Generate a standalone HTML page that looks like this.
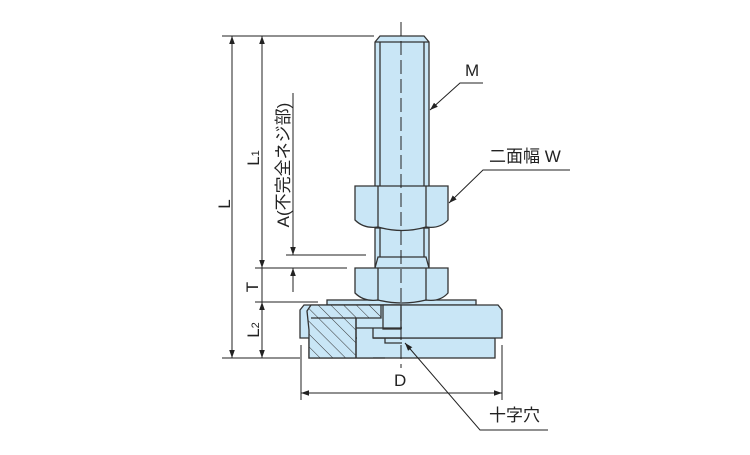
<!DOCTYPE html>
<html><head><meta charset="utf-8"><style>
body{margin:0;background:#fff}
svg text{font-family:"Liberation Sans","Noto Sans CJK JP",sans-serif;fill:#222}
</style></head><body>
<svg width="750" height="450" viewBox="0 0 750 450" xmlns="http://www.w3.org/2000/svg">
<defs>
<marker id="a" viewBox="0 0 10 10" refX="10" refY="5" markerWidth="8" markerHeight="8" orient="auto-start-reverse" markerUnits="userSpaceOnUse"><path d="M0,1.5 L10,5 L0,8.5 z" fill="#222"/></marker>
<pattern id="h" patternUnits="userSpaceOnUse" width="9" height="9" patternTransform="rotate(-45)"><rect width="9" height="9" fill="#c9e6f6"/><line x1="0" y1="0" x2="0" y2="9" stroke="#333" stroke-width="1"/></pattern>
</defs>
<g stroke="#333" stroke-width="1.3" fill="#c9e6f6">
<path d="M375,42 L380,36 L424,36 L429,42 L429,190 L375,190 Z"/>
<line x1="380" y1="42" x2="380" y2="190"/><line x1="424" y1="42" x2="424" y2="190"/>
<line x1="375" y1="42" x2="429" y2="42"/>
<rect x="375" y="228" width="54" height="42"/>
<line x1="380" y1="228" x2="380" y2="257"/><line x1="424" y1="228" x2="424" y2="257"/>
<path d="M375,268 L378,257 L426,257 L429,268" fill="none"/>
<path d="M355,186 L448,186 L448,220 Q440,229 426,227 Q402,234 378,227 Q364,229 355,220 Z"/>
<line x1="378" y1="186" x2="378" y2="227"/><line x1="426" y1="186" x2="426" y2="227"/>
<rect x="327" y="300" width="149" height="5"/>
<rect x="309" y="338" width="186" height="20"/>
<path d="M300,310 L304,305 L498,305 L502,310 L502,338 L300,338 Z"/>
<path d="M307,311 L311,305 L381,305 L381,318 L356,318 L356,358 L309,358 L309,330 Z" fill="url(#h)"/>
<line x1="311" y1="318" x2="356" y2="318"/>
<rect x="383" y="305" width="18" height="24" fill="#c9e6f6"/>
<rect x="357" y="328" width="16" height="30" stroke="none"/>
<path d="M356,328 L402,328 M373,328 L373,338 L402,338 M385,338 L385,343 L402,343" fill="none"/>
<line x1="356" y1="318" x2="356" y2="358"/>
<line x1="357" y1="358" x2="385" y2="358"/>
<path d="M355,268 L448,268 L448,293 Q440,302 426,300 Q402,306 378,300 Q364,302 355,293 Z"/>
<line x1="378" y1="268" x2="378" y2="300"/><line x1="426" y1="268" x2="426" y2="300"/>
</g>
<g stroke="#222" stroke-width="1" fill="none">
<line x1="401" y1="22" x2="401" y2="368" stroke-dasharray="14,5"/>
<line x1="222" y1="36" x2="374" y2="36"/>
<line x1="222" y1="358" x2="300" y2="358"/>
<line x1="255" y1="268" x2="347" y2="268"/>
<line x1="255" y1="302" x2="318" y2="302"/>
<line x1="286" y1="255" x2="366" y2="255"/>
<line x1="301" y1="345" x2="301" y2="400"/><line x1="502" y1="345" x2="502" y2="400"/>
<line x1="232" y1="36" x2="232" y2="358" marker-start="url(#a)" marker-end="url(#a)"/>
<line x1="262" y1="36" x2="262" y2="268" marker-start="url(#a)" marker-end="url(#a)"/>
<line x1="262" y1="302" x2="262" y2="358" marker-start="url(#a)" marker-end="url(#a)"/>
<line x1="262" y1="268" x2="262" y2="302"/>
<line x1="293" y1="93" x2="293" y2="255" marker-end="url(#a)"/>
<line x1="293" y1="292" x2="293" y2="268" marker-end="url(#a)"/>
<line x1="301" y1="393" x2="502" y2="393" marker-start="url(#a)" marker-end="url(#a)"/>
<polyline points="483,83 460,83 430,110" marker-end="url(#a)"/>
<polyline points="570,170 483,170 449,203" marker-end="url(#a)"/>
<polyline points="548,430 480,430 405,343" marker-end="url(#a)"/>
</g>
<g font-size="17">
<text x="465" y="76">M</text>
<text x="489" y="162">二面幅 W</text>
<text x="489" y="421">十字穴</text>
<text x="394" y="386">D</text>
<text transform="translate(230,204) rotate(-90)" text-anchor="middle">L</text>
<text transform="translate(259,158) rotate(-90)" text-anchor="middle">L<tspan font-size="11">1</tspan></text>
<text transform="translate(259,330) rotate(-90)" text-anchor="middle">L<tspan font-size="11">2</tspan></text>
<text transform="translate(258,287) rotate(-90)" text-anchor="middle">T</text>
<text transform="translate(289,165) rotate(-90)" text-anchor="middle">A(不完全ネジ部)</text>
</g>
</svg>
</body></html>
